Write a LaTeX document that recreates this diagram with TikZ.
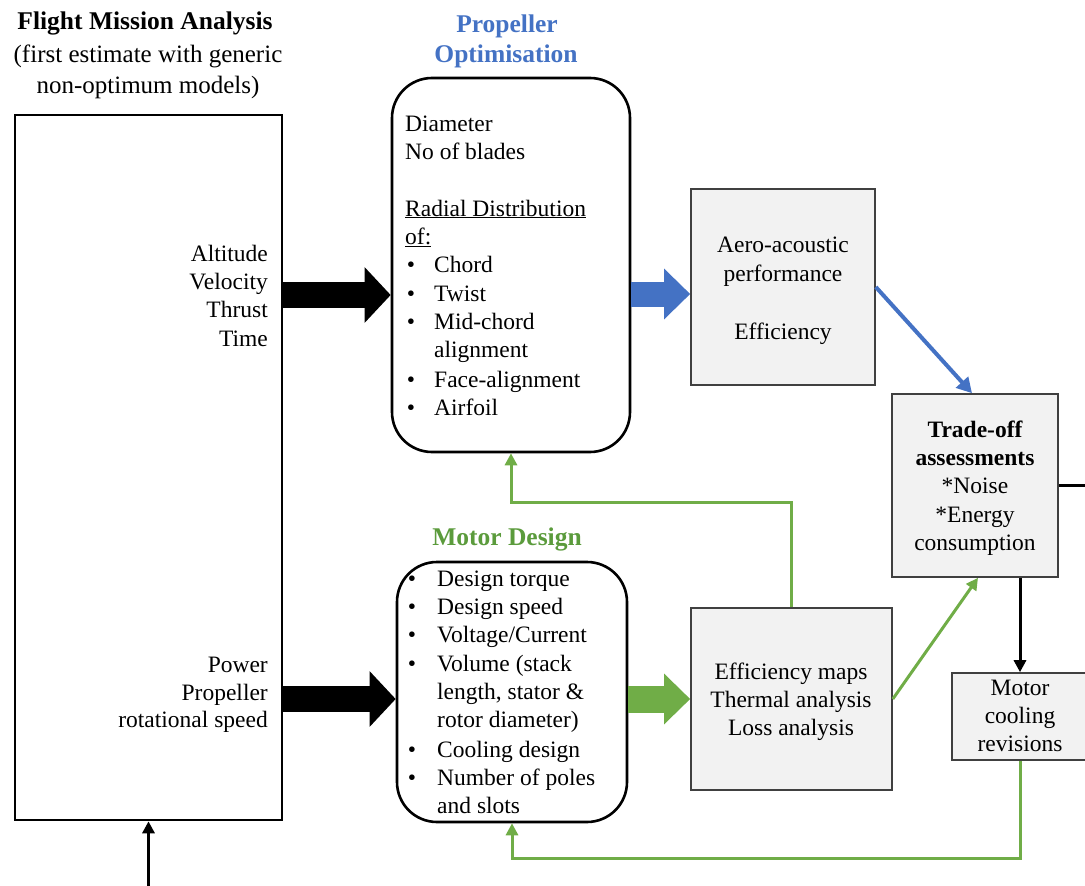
\documentclass[tikz,border=0pt]{standalone}
\usepackage{fontspec}
\setmainfont{Liberation Serif}
\usetikzlibrary{arrows.meta}
\definecolor{blueC}{HTML}{4472C4}
\definecolor{greenC}{HTML}{70AD47}
\definecolor{greenT}{HTML}{5B9B3C}
\definecolor{boxfill}{HTML}{F2F2F2}
\definecolor{boxline}{HTML}{404040}
\begin{document}
\begin{tikzpicture}[x=1pt,y=-1pt,
  txt/.style={font=\fontsize{23.5}{28}\selectfont, inner sep=0pt, text height=17pt, text depth=3pt},
  ttl/.style={txt, font=\fontsize{23.5}{28}\selectfont\bfseries},
  hdr/.style={txt, font=\fontsize{25.5}{30}\selectfont\bfseries},
  bigbox/.style={draw=black, line width=2.6pt, minimum width=#1, inner sep=0pt},
  graybox/.style={draw=boxline, fill=boxfill, line width=1.6pt, inner sep=0pt},
  fat/.style={line width=26pt, -{Triangle[width=54pt,length=26pt]}},
  thin/.style={line width=3pt, -{Triangle[width=12pt,length=12pt]}},
]
\useasboundingbox (0,0) rectangle (1085,886);

% boxes
\node[bigbox=267pt, minimum height=705pt] (flight) at (148.5,467.5) {};
\node[bigbox=238pt, minimum height=374pt, rounded corners=40pt] (prop) at (511,265) {};
\node[bigbox=230pt, minimum height=260pt, rounded corners=40pt] (motor) at (512,692) {};
\node[graybox, minimum width=184pt, minimum height=196pt] (aero) at (783,287) {};
\node[graybox, minimum width=166pt, minimum height=183pt] (trade) at (975,485.5) {};
\node[graybox, minimum width=201pt, minimum height=182pt] (eff) at (791.5,699) {};
\node[graybox, minimum width=136pt, minimum height=87pt] (cool) at (1020,716.5) {};

% titles
\node[hdr] (t1) at (145,22) {Flight Mission Analysis};
\node[txt, font=\fontsize{25}{30}\selectfont] (t2) at (148,55) {(first estimate with generic};
\node[txt, font=\fontsize{25}{30}\selectfont] (t3) at (148,86) {non-optimum models)};
\node[hdr, text=blueC] (t4) at (507,25) {Propeller};
\node[hdr, text=blueC] (t5) at (506,55) {Optimisation};
\node[hdr, text=greenT] (t6) at (507,538) {Motor Design};

% flight labels
\node[txt, anchor=east] (l1) at (268,254) {Altitude};
\node[txt, anchor=east] (l2) at (268,282) {Velocity};
\node[txt, anchor=east] (l3) at (268,310) {Thrust};
\node[txt, anchor=east] (l4) at (268,339) {Time};
\node[txt, anchor=east] (l5) at (268,665) {Power};
\node[txt, anchor=east] (l6) at (268,693) {Propeller};
\node[txt, anchor=east] (l7) at (268,720) {rotational speed};

% propeller text
\node[txt, anchor=west] (p1) at (405,124) {Diameter};
\node[txt, anchor=west] (p2) at (405,152) {No of blades};
\node[txt, anchor=west] (p3) at (405,209) {\underline{Radial Distribution}};
\node[txt, anchor=west] (p4) at (405,237) {\underline{of:}};
\foreach \y/\t [count=\i] in {265/Chord,294/Twist,322/Mid-chord,380/Face-alignment,408/Airfoil}{
  \node[txt] (pb\i) at (411,\y) {\textbullet};
  \node[txt, anchor=west] (pt\i) at (434,\y) {\t};
}
\node[txt, anchor=west] (p5) at (434,350) {alignment};

% motor text
\foreach \y/\t [count=\i] in {579/Design torque,607/Design speed,635/Voltage\slash Current,664/Volume (stack,750/Cooling design,778/Number of poles}{
  \node[txt] (mb\i) at (412,\y) {\textbullet};
  \node[txt, anchor=west] (mt\i) at (437,\y) {\t};
}
\node[txt, anchor=west] (m7) at (437,692) {length, stator \&};
\node[txt, anchor=west] (m8) at (437,720) {rotor diameter)};
\node[txt, anchor=west] (m9) at (437,806) {and slots};

% aero text
\node[txt] (a1) at (783,245) {Aero-acoustic};
\node[txt] (a2) at (783,274) {performance};
\node[txt] (a3) at (783,332) {Efficiency};

% trade text
\node[ttl] (r1) at (975,430) {Trade-off};
\node[ttl] (r2) at (975,458) {assessments};
\node[txt] (r3) at (975,486) {*Noise};
\node[txt] (r4) at (975,515) {*Energy};
\node[txt] (r5) at (975,543) {consumption};

% eff text
\node[txt] (e1) at (791,672) {Efficiency maps};
\node[txt] (e2) at (791,700) {Thermal analysis};
\node[txt] (e3) at (791,728) {Loss analysis};

% cooling text
\node[txt] (c1) at (1020,688) {Motor};
\node[txt] (c2) at (1020,716) {cooling};
\node[txt] (c3) at (1020,744) {revisions};

% helper coordinates
\coordinate (ya) at (0,295);
\coordinate (yb) at (0,294);
\coordinate (yc) at (0,699);
\coordinate (g1) at (511,502);
\coordinate (g2) at (512,858);
\coordinate (bot) at (148.5,890);
\coordinate (edge) at (1090,485.5);

% fat arrows
\draw[fat, black] (flight.east |- ya) -- (prop.west |- ya);
\draw[fat, black] (flight.east |- yc) -- (motor.west |- yc);
\draw[fat, blueC, line width=25pt, -{Triangle[width=49pt,length=26pt]}] (prop.east |- yb) -- (aero.west |- yb);
\draw[fat, greenC, line width=27pt, -{Triangle[width=49pt,length=26pt]}] (motor.east |- yc) -- (eff.west |- yc);

% thin connectors
\draw[blueC, line width=4pt, -{Triangle[width=16pt,length=15pt]}] (aero.east) -- ([xshift=-3pt]trade.north);
\draw[thin, greenC] (eff.east) -- ([xshift=3pt]trade.south);
\draw[thin, black] (cool.north |- trade.south) -- (cool.north);
\draw[line width=2.6pt] (trade.east) -- (edge);
\draw[thin, greenC] (eff.north) |- (g1) -- (prop.south);
\draw[thin, greenC] (cool.south) |- (g2) -- (motor.south);
\draw[thin, black] (bot) -- (flight.south);
\end{tikzpicture}
\end{document}
